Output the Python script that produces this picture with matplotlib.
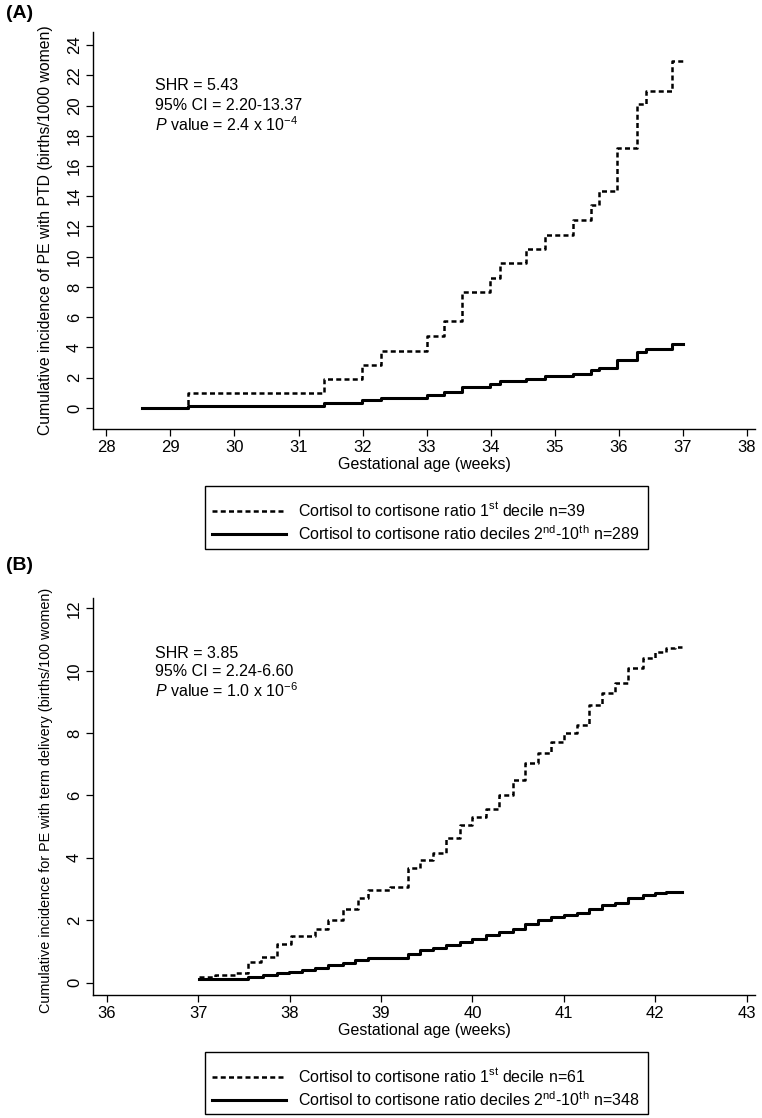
import matplotlib
matplotlib.use("Agg")
import matplotlib.pyplot as plt
import matplotlib.transforms as mtransforms
from matplotlib.lines import Line2D
from matplotlib.patches import Rectangle

plt.rcParams['font.family'] = ['Liberation Sans', 'DejaVu Sans']
plt.rcParams['mathtext.fontset'] = 'custom'
plt.rcParams['mathtext.rm'] = 'Liberation Sans'
plt.rcParams['mathtext.it'] = 'Liberation Sans:italic'

# ---------------- Panel A data (births/1000 women) ----------------
a_dash_x = [28.55, 29.27, 31.40, 31.99, 32.29, 33.00, 33.28, 33.56, 33.99, 34.14,
            34.56, 34.85, 35.28, 35.57, 35.70, 35.98, 36.28, 36.43, 36.84, 37.00]
a_dash_y = [0.0, 0.97, 1.89, 2.84, 3.77, 4.78, 5.75, 7.64, 8.61, 9.56,
            10.50, 11.47, 12.42, 13.39, 14.36, 17.18, 20.08, 20.99, 22.92, 22.92]
a_solid_x = a_dash_x
a_solid_y = [0.0, 0.15, 0.32, 0.54, 0.69, 0.86, 1.08, 1.40, 1.61, 1.79,
             1.94, 2.11, 2.26, 2.48, 2.65, 3.16, 3.72, 3.87, 4.24, 4.24]

# ---------------- Panel B data (births/100 women) ----------------
b_dash_x = [37.01, 37.18, 37.41, 37.55, 37.69, 37.86, 38.02, 38.28, 38.42, 38.58,
            38.75, 38.86, 39.10, 39.29, 39.43, 39.57, 39.71, 39.86, 39.99, 40.15,
            40.29, 40.44, 40.58, 40.72, 40.86, 41.00, 41.14, 41.28, 41.42, 41.56,
            41.70, 41.86, 42.00, 42.12, 42.22, 42.29]
b_dash_y = [0.18, 0.24, 0.29, 0.66, 0.82, 1.25, 1.49, 1.73, 2.00, 2.37,
            2.70, 2.96, 3.07, 3.66, 3.93, 4.14, 4.62, 5.05, 5.32, 5.58,
            6.01, 6.49, 7.03, 7.35, 7.72, 7.99, 8.26, 8.90, 9.27, 9.59,
            10.07, 10.40, 10.61, 10.72, 10.77, 10.77]
b_solid_x = [37.01, 37.55, 37.71, 37.86, 37.99, 38.14, 38.28, 38.42, 38.58, 38.72,
             38.86, 39.29, 39.43, 39.57, 39.71, 39.86, 39.99, 40.15, 40.29, 40.44,
             40.58, 40.72, 40.86, 41.00, 41.14, 41.28, 41.42, 41.56, 41.70, 41.86,
             42.00, 42.12, 42.29]
b_solid_y = [0.10, 0.18, 0.24, 0.29, 0.34, 0.40, 0.48, 0.56, 0.63, 0.72,
             0.79, 0.93, 1.04, 1.11, 1.20, 1.30, 1.41, 1.52, 1.63, 1.73,
             1.87, 2.00, 2.09, 2.16, 2.24, 2.37, 2.48, 2.56, 2.70, 2.80,
             2.86, 2.91, 2.91]

a_xticks = list(range(28, 39))
a_yticks = list(range(0, 25, 2))
b_xticks = list(range(36, 44))
b_yticks = list(range(0, 13, 2))

a_ylabel = "Cumulative incidence of PE with PTD (births/1000 women)"
b_ylabel = "Cumulative incidence for PE with term delivery (births/100 women)"
xlabel = "Gestational age (weeks)"

a_stats = ["SHR = 5.43", "95% CI = 2.20-13.37", r"$\it{P}$ value = 2.4 x 10$^{\mathregular{-4}}$"]
b_stats = ["SHR = 3.85", "95% CI = 2.24-6.60", r"$\it{P}$ value = 1.0 x 10$^{\mathregular{-6}}$"]

a_leg = [r"Cortisol to cortisone ratio 1$^{\mathregular{st}}$ decile n=39",
         r"Cortisol to cortisone ratio deciles 2$^{\mathregular{nd}}$-10$^{\mathregular{th}}$ n=289"]
b_leg = [r"Cortisol to cortisone ratio 1$^{\mathregular{st}}$ decile n=61",
         r"Cortisol to cortisone ratio deciles 2$^{\mathregular{nd}}$-10$^{\mathregular{th}}$ n=348"]

W, H = 762, 1118
fig = plt.figure(figsize=(W / 100, H / 100), dpi=100)

DASH = (0, (2.0, 1.3))
LW_D = 1.8
LW_S = 2.2
FS = 11.5
TFS = 12


def fx(px):
    return px / W


def fy(py):
    return 1 - py / H


def style_axes(ax, xticks, yticks, xlim, ylim, ylabel, ylfs):
    ax.set_xlim(*xlim)
    ax.set_ylim(*ylim)
    ax.set_xticks(xticks)
    ax.set_yticks(yticks)
    for s in ['top', 'right']:
        ax.spines[s].set_visible(False)
    for s in ['left', 'bottom']:
        ax.spines[s].set_linewidth(1.0)
    ax.tick_params(direction='out', length=5, width=0.9, labelsize=TFS, pad=3)
    for lab in ax.get_yticklabels():
        lab.set_rotation(90)
        lab.set_va('center')
    ax.set_xlabel(xlabel, fontsize=FS, labelpad=1)
    ax.set_ylabel(ylabel, fontsize=ylfs)
    ax.yaxis.set_label_coords(0, 0.5)
    ax.yaxis.label.set_transform(
        mtransforms.blended_transform_factory(fig.transFigure, ax.transAxes))
    ax.yaxis.label.set_position((fx(53), 0.5))


def legend_box(labels, top, bottom):
    handles = [Line2D([], [], color='black', lw=LW_D, linestyle=DASH),
               Line2D([], [], color='black', lw=LW_S)]
    fig.legend(handles, labels, loc='upper left',
               bbox_to_anchor=(fx(205), fy(top + 8)), borderaxespad=0,
               frameon=False, fontsize=FS, handlelength=4.6,
               handletextpad=0.8, labelspacing=0.3, borderpad=0.45)
    fig.add_artist(Rectangle((fx(205), fy(bottom)), fx(648) - fx(205), fy(top) - fy(bottom),
                             transform=fig.transFigure, fill=False, ec='black', lw=1.0))


# Panel A
axA = fig.add_axes([fx(93), fy(429), fx(755) - fx(93), fy(32) - fy(429)])
axA.step(a_dash_x, a_dash_y, where='post', color='black', lw=LW_D, linestyle=DASH)
axA.step(a_solid_x, a_solid_y, where='post', color='black', lw=LW_S)
style_axes(axA, a_xticks, a_yticks, (27.79, 38.13), (-1.39, 24.86), a_ylabel, 11.3)
for i, t in enumerate(a_stats):
    fig.text(fx(155), fy(85 + 20 * i), t, fontsize=FS, va='center', ha='left')
fig.text(fx(6), fy(14), "(A)", fontsize=14, fontweight='bold', va='center', ha='left')
legend_box(a_leg, 486, 549)

# Panel B
axB = fig.add_axes([fx(93), fy(995), fx(755) - fx(93), fy(598) - fy(995)])
axB.step(b_dash_x, b_dash_y, where='post', color='black', lw=LW_D, linestyle=DASH)
axB.step(b_solid_x, b_solid_y, where='post', color='black', lw=LW_S)
style_axes(axB, b_xticks, b_yticks, (35.85, 43.09), (-0.40, 12.33), b_ylabel, 10.4)
axB.yaxis.label.set_position((fx(53), 0.49))
for i, t in enumerate(b_stats):
    fig.text(fx(155), fy(653 + 19 * i), t, fontsize=FS, va='center', ha='left')
fig.text(fx(6), fy(565), "(B)", fontsize=14, fontweight='bold', va='center', ha='left')
legend_box(b_leg, 1052, 1114)

fig.savefig("out.png", dpi=100)
